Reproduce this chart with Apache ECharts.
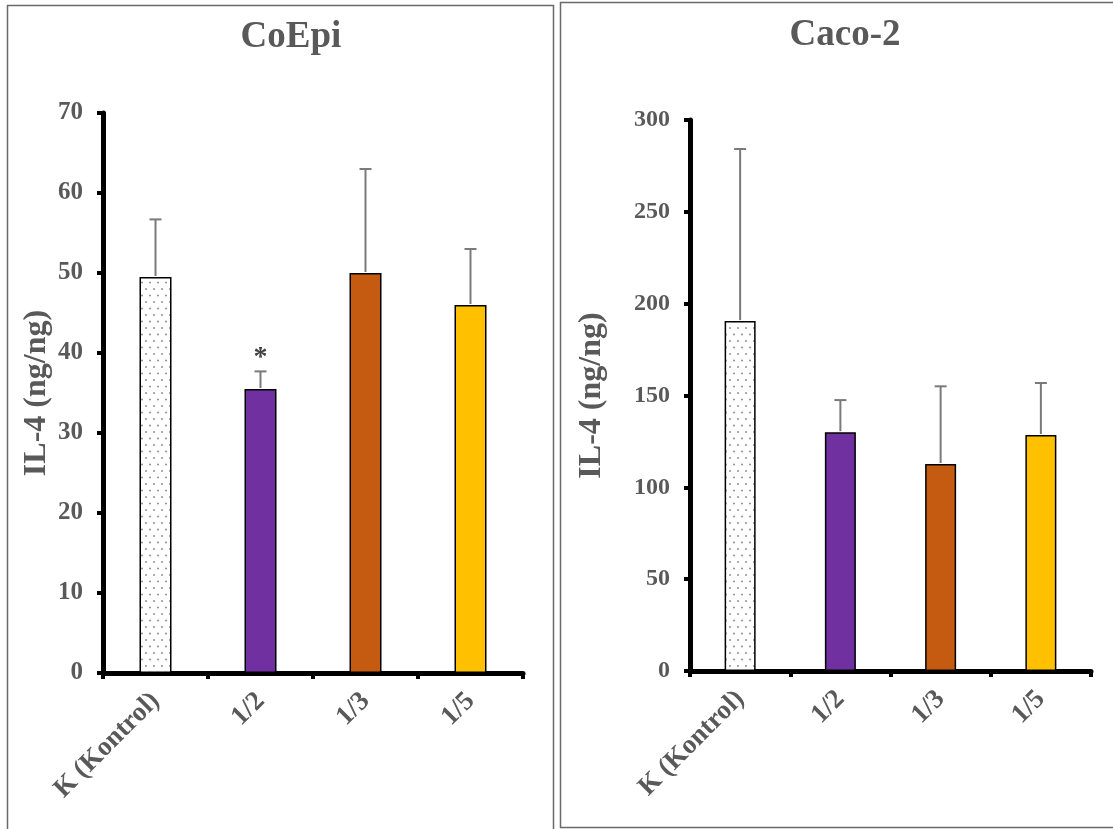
<!DOCTYPE html>
<html><head><meta charset="utf-8">
<script src="https://cdn.jsdelivr.net/npm/echarts@6/dist/echarts.min.js"></script>
<style>html,body{margin:0;padding:0;background:#fff}#c{width:1113px;height:829px}</style>
</head><body><div id="c"></div>
<script>
// ---- data ----
const categories = ['K (Kontrol)', '1/2', '1/3', '1/5'];
const coepiMeans = [49.5, 35.5, 50, 46];
const coepiErrors = [7.2, 2.2, 13, 7];
const coepiMarks = ['', '*', '', ''];
const cacoMeans = [190.5, 130, 112.7, 128.5];
const cacoErrors = [93.7, 17.5, 42.3, 28.3];
const cacoMarks = ['', '', '', ''];
const coepiTicks = [0, 10, 20, 30, 40, 50, 60, 70];
const cacoTicks = [0, 50, 100, 150, 200, 250, 300];
const titles = ['CoEpi', 'Caco-2'];
const yName = 'IL-4 (ng/ng)';

// ---- styles ----
const SERIF = '"Liberation Serif", "Times New Roman", serif';
const GRAY = '#595959';
function dotPattern() {
  const c = document.createElement('canvas');
  c.width = 8; c.height = 13;
  const g = c.getContext('2d');
  g.fillStyle = '#fff'; g.fillRect(0, 0, 8, 13);
  g.fillStyle = '#999';
  g.beginPath(); g.arc(2, 3, 1.1, 0, Math.PI * 2); g.fill();
  g.beginPath(); g.arc(6, 9.5, 1.1, 0, Math.PI * 2); g.fill();
  return { image: c, repeat: 'repeat' };
}
const barColors = [dotPattern(), '#7030A0', '#C55A11', '#FFC000'];

function errSeries(idx, means, errs, marks) {
  return {
    type: 'custom', xAxisIndex: idx, yAxisIndex: idx, z: 5,
    data: means.map((m, i) => [i, m, errs[i]]),
    encode: { x: 0, y: 1 },
    renderItem: function (params, api) {
      const i = api.value(0), m = api.value(1), e = api.value(2);
      const b = api.coord([i, m]);
      const t = api.coord([i, m + e]);
      const st = { stroke: '#7a7a7a', lineWidth: 2 };
      const ch = [
        { type: 'line', shape: { x1: b[0], y1: b[1] - 1, x2: t[0], y2: t[1] }, style: st },
        { type: 'line', shape: { x1: t[0] - 6, y1: t[1], x2: t[0] + 6, y2: t[1] }, style: st }
      ];
      const mk = marks[params.dataIndex];
      if (mk) {
        ch.push({ type: 'text', style: { text: mk, x: t[0], y: t[1] - 14, align: 'center', verticalAlign: 'middle', textAlign: 'center', textVerticalAlign: 'middle', font: 'bold 28px ' + SERIF, fill: '#404040' } });
      }
      return { type: 'group', children: ch };
    }
  };
}

function barSeries(idx, means) {
  return {
    type: 'bar', xAxisIndex: idx, yAxisIndex: idx,
    barWidth: idx === 0 ? 32 : 31,
    data: means.map((v, i) => ({ value: v, itemStyle: { color: barColors[i] } })),
    itemStyle: { borderColor: '#000', borderWidth: 1.5 },
    animation: false
  };
}

function xAx(idx) {
  return {
    type: 'category', gridIndex: idx, data: categories,
    axisLine: { lineStyle: { color: '#000', width: 5 } },
    axisTick: { show: true, length: 6, lineStyle: { color: '#000', width: 4 } },
    axisLabel: { rotate: 45, margin: 24, color: GRAY, fontFamily: SERIF, fontWeight: 'bold', fontSize: 27, interval: 0 }
  };
}
function yAx(idx, ticks, gap, fs) {
  return {
    type: 'value', gridIndex: idx,
    min: ticks[0], max: ticks[ticks.length - 1], interval: ticks[1] - ticks[0],
    name: yName, nameLocation: 'middle', nameGap: gap, nameRotate: 90,
    nameTextStyle: { color: GRAY, fontFamily: SERIF, fontWeight: 'bold', fontSize: 32 },
    axisLine: { show: true, lineStyle: { color: '#000', width: 5 } },
    axisTick: { show: true, length: 6, lineStyle: { color: '#000', width: 4 } },
    splitLine: { show: false },
    axisLabel: { margin: 20, color: GRAY, fontFamily: SERIF, fontWeight: 'bold', fontSize: fs }
  };
}

const chart = echarts.init(document.getElementById('c'), null, { renderer: 'canvas' });
chart.setOption({
  backgroundColor: '#fff',
  animation: false,
  title: [
    { text: titles[0], left: 286, top: 14, textAlign: 'center', textStyle: { color: GRAY, fontFamily: SERIF, fontWeight: 'bold', fontSize: 37 } },
    { text: titles[1], left: 840, top: 12, textAlign: 'center', textStyle: { color: GRAY, fontFamily: SERIF, fontWeight: 'bold', fontSize: 37 } }
  ],
  graphic: [
    { type: 'rect', shape: { x: 7.5, y: 5.5, width: 546, height: 840 }, style: { fill: 'none', stroke: '#6a6a6a', lineWidth: 1.5 }, silent: true },
    { type: 'rect', shape: { x: 560.5, y: 2.5, width: 580, height: 825 }, style: { fill: 'none', stroke: '#6a6a6a', lineWidth: 1.5 }, silent: true }
  ],
  grid: [
    { left: 103, top: 113, width: 420, height: 560 },
    { left: 690, top: 120, width: 401, height: 551 }
  ],
  xAxis: [xAx(0), xAx(1)],
  yAxis: [yAx(0, coepiTicks, 50, 25), yAx(1, cacoTicks, 82, 24)],
  series: [
    barSeries(0, coepiMeans), errSeries(0, coepiMeans, coepiErrors, coepiMarks),
    barSeries(1, cacoMeans), errSeries(1, cacoMeans, cacoErrors, cacoMarks)
  ]
});
</script>
</body></html>
